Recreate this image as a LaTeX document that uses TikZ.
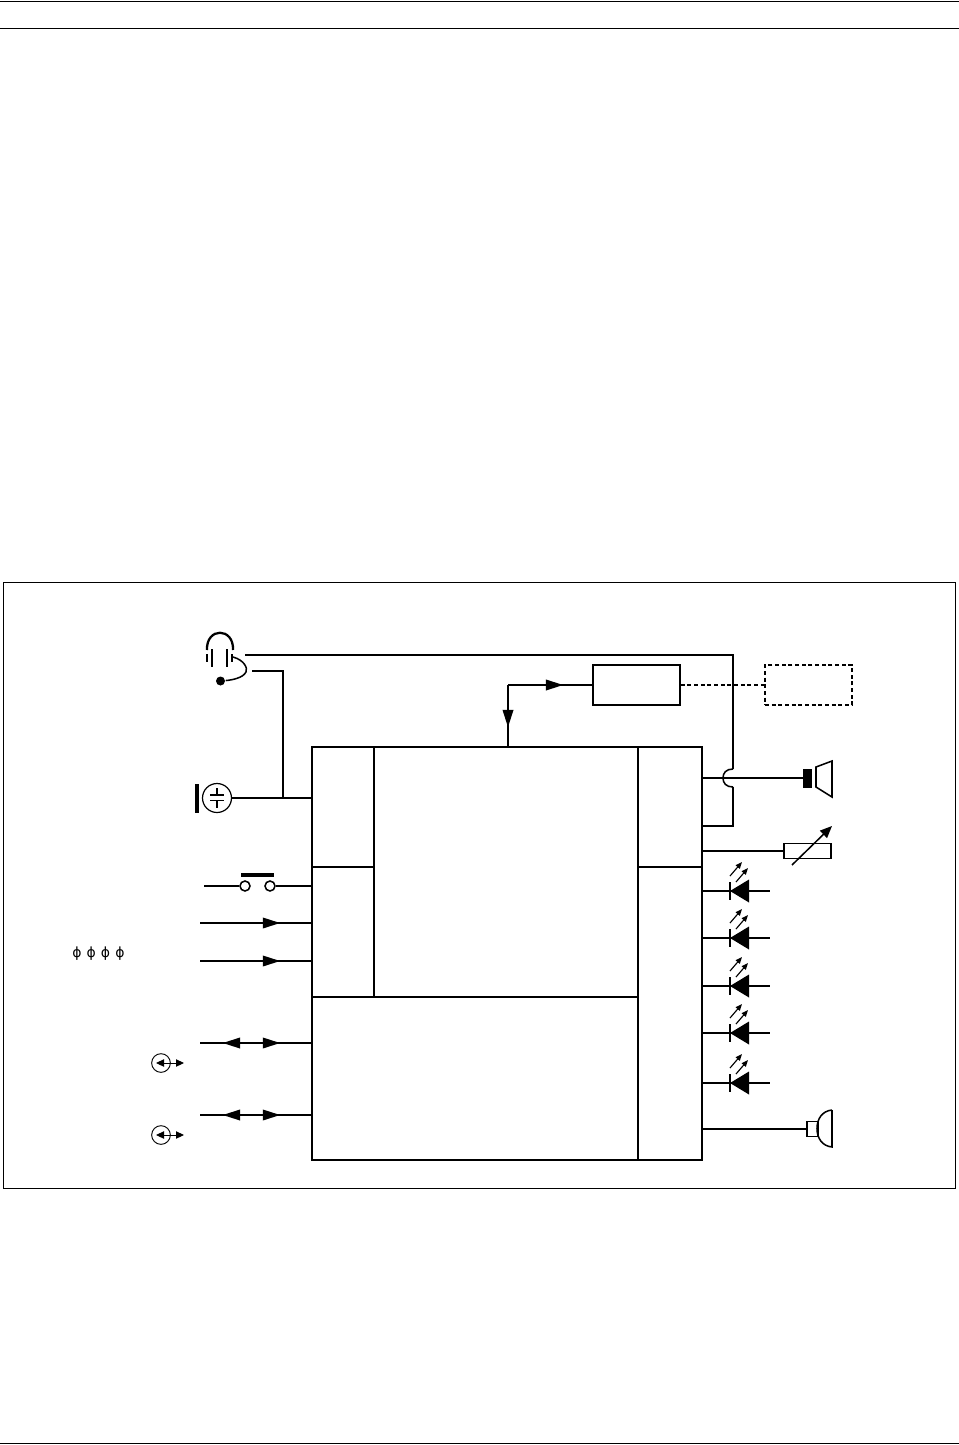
\documentclass[tikz,border=0pt]{standalone}
\usepackage{fontspec}
\newfontfamily\symfont{DejaVu Sans}
\usetikzlibrary{arrows.meta,decorations.markings}
\def\px{0.75pt}
\tikzset{
  bigtip/.tip={Triangle[length=13pt,width=8pt]},
  smalltip/.tip={Triangle[length=6pt,width=5.5pt]},
  tinytip/.tip={Triangle[length=5pt,width=4pt]},
  tip fwd/.style={postaction={decorate,decoration={markings,mark=at position #1 with {\arrow{bigtip}}}}},
  tip back/.style={postaction={decorate,decoration={markings,mark=at position #1 with {\arrowreversed{bigtip}}}}},
  blockbox/.style={draw,inner sep=0pt},
  contact/.style={draw,circle,fill=white,inner sep=0pt,minimum size=10*\px},
  ledpic/.pic={
    \draw (0,-9) -- (0,9);
    \fill (0,0) -- (19,-11.5) -- (19,11.5) -- cycle;
    \draw[thick line,-{tinytip}] (0,-15) -- (12,-29);
    \draw[thick line,-{tinytip}] (6,-9) -- (18,-23);
  },
  thick line/.style={line width=0.85pt},
  portpic/.pic={
    \draw[line width=0.7pt] (0,0) circle [radius=7pt];
    \draw[line width=0.7pt,{smalltip}-{smalltip}] (-5,0) -- (23,0);
    \fill[white] (9.5,-5) rectangle (14.5,5);
    \draw[line width=0.7pt] (9,0) -- (15,0);
  }
}
\begin{document}
\begin{tikzpicture}[
            x=0.75pt,
            y=-0.75pt,
            line width=1.15pt,
            line join=miter]
    \useasboundingbox (0,0) rectangle (959,1445);
    % page rules and frame
    \coordinate (rule_a) at (0,1);
    \coordinate (rule_b) at (0,28);
    \coordinate (rule_c) at (0,1443);
    \draw[line width=0.7pt] (rule_a) -- ++(959,0);
    \draw[line width=0.7pt] (rule_b) -- ++(959,0);
    \draw[line width=0.7pt] (rule_c) -- ++(959,0);
    \node[draw,line width=0.7pt,inner sep=0pt,minimum width=952*\px,minimum height=606*\px] (frame) at (479,885) {};
    % main blocks
    \node[blockbox,minimum width=62*\px,minimum height=120*\px] (b_audio) at (343,807) {};
    \node[blockbox,minimum width=62*\px,minimum height=130*\px] (b_input) at (343,932) {};
    \node[blockbox,minimum width=264*\px,minimum height=250*\px] (b_core) at (506,872) {};
    \node[blockbox,minimum width=326*\px,minimum height=163*\px] (b_data) at (475,1078.5) {};
    \node[blockbox,minimum width=64*\px,minimum height=120*\px] (b_out) at (670,807) {};
    \node[blockbox,minimum width=64*\px,minimum height=293*\px] (b_drive) at (670,1013.5) {};
    \node[blockbox,minimum width=87*\px,minimum height=40*\px] (b_amp) at (636.5,685) {};
    \node[blockbox,dashed,dash pattern=on 3pt off 2pt,minimum width=87*\px,minimum height=40*\px] (b_ext) at (808.5,685) {};
    % upper links
    \coordinate (core_top) at (508,747);
    \draw[tip back=0.32] (core_top) -- (core_top |- b_amp.west);
    \draw[tip fwd=0.655] (core_top |- b_amp.west) -- (b_amp.west);
    \draw[dashed,dash pattern=on 3pt off 2pt] (b_amp.east) -- (b_ext.west);
    % headset
    \coordinate (head_out) at (245,655);
    \coordinate (head_mic) at (252,671);
    \coordinate (hop_top) at (733,769);
    \coordinate (hop_low) at (733,787);
    \coordinate (loop_out) at (702,826);
    \draw[line width=1.7pt] (207,650) .. controls (206,627) and (234,627) .. (233,650);
    \draw[line width=1.6pt] (207,654) -- (207,662);
    \draw[line width=1.6pt] (212,649) -- (212,667);
    \draw[line width=1.6pt] (227,649) -- (227,667);
    \draw[line width=1.6pt] (232,654) -- (232,662);
    \node[circle,fill,inner sep=0pt,minimum size=9*\px] (mic_dot) at (220.5,681) {};
    \draw (233,657) .. controls (244,660) and (248,668) .. (246,672) .. controls (243,678) and (232,680) .. (mic_dot);
    \draw (head_out) -| (hop_top);
    \draw (hop_top) .. controls (726,769) and (723,773) .. (723,778) .. controls (723,783) and (726,787) .. (hop_low);
    \draw (hop_low) |- (loop_out);
    % microphone
    \node[draw,circle,line width=0.9pt,inner sep=0pt,minimum size=29*\px] (mic_c) at (217,798) {};
    \draw[line width=2.8pt] (197,784) -- (197,813);
    \draw (210,795) -- (224,795);
    \draw (210,800.5) -- (224,800.5);
    \draw (217,788) -- (217,795);
    \draw (217,800.5) -- (217,808);
    \draw (mic_c) -- (mic_c -| b_audio.west);
    \draw (head_mic) -| (283,798);
    % button
    \coordinate (btn_in) at (204,886);
    \node[contact] (btn_l) at (245,886) {};
    \node[contact] (btn_r) at (270,886) {};
    \draw (btn_in) -- (btn_l);
    \draw (btn_r) -- (btn_r -| b_input.west);
    \draw[line width=3pt] (241,875) -- (274,875);
    % data lines
    \coordinate (in_a) at (200,923);
    \coordinate (in_b) at (200,961);
    \coordinate (io_a) at (200,1043);
    \coordinate (io_b) at (200,1115);
    \draw[tip fwd=0.72] (in_a) -- (in_a -| b_input.west);
    \draw[tip fwd=0.72] (in_b) -- (in_b -| b_input.west);
    \draw[tip fwd=0.72,tip back=0.205] (io_a) -- (io_a -| b_data.west);
    \draw[tip fwd=0.72,tip back=0.205] (io_b) -- (io_b -| b_data.west);
    \foreach \xpos/\n in {77/1,91.3/2,105.6/3,120/4}
      \node[inner sep=0pt,font=\symfont\fontsize{10.5pt}{12pt}\selectfont] (phi_\n) at (\xpos,954) {ϕ};
    \pic at (161,1063) {portpic};
    \pic at (161,1135) {portpic};
    % loudspeaker
    \coordinate (spk_in) at (803,778);
    \draw (spk_in -| b_out.east) -- (spk_in);
    \fill (803,769) rectangle (812,788);
    \draw (816,767) -- (832,761) -- (832,797) -- (816,787) -- cycle;
    % volume
    \node[blockbox,minimum width=47*\px,minimum height=15*\px] (b_vol) at (807.5,851) {};
    \draw (b_vol.west -| b_out.east) -- (b_vol.west);
    \draw[-{Triangle[length=9pt,width=7.5pt]}] (792,865) -- (832,826);
    % status leds
    \foreach \ypos/\n in {891/1,938/2,986/3,1033/4,1083/5} {
      \coordinate (led_\n) at (730,\ypos);
      \coordinate (led_end_\n) at (770,\ypos);
      \draw (led_\n -| b_drive.east) -- (led_end_\n);
      \pic at (led_\n) {ledpic};
    }
    % earpiece
    \node[blockbox,minimum width=11*\px,minimum height=15*\px] (b_ear) at (812.5,1129) {};
    \draw (b_ear.west -| b_drive.east) -- (b_ear.west);
    \draw (832,1110) -- (832,1147) .. controls (822,1146) and (817,1138) .. (817,1128.5) .. controls (817,1119) and (822,1111) .. (832,1110);
\end{tikzpicture}
\end{document}
